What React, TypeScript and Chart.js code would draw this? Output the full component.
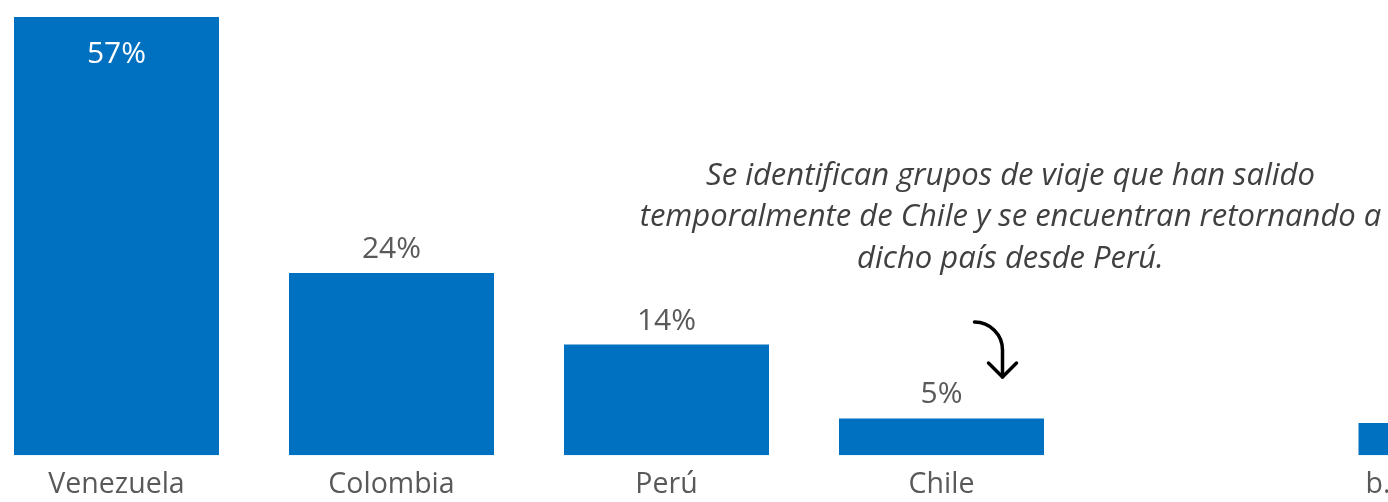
import React, { useEffect, useRef } from "react";
import { Chart, registerables } from "chart.js";

Chart.register(...registerables);

const categories = ["Venezuela", "Colombia", "Perú", "Chile"];
const shares = [57.0, 23.7, 14.4, 4.8];
const extraCategories = ["b."];
const extraShares = [4.2];
const noteLines = [
  "Se identifican grupos de viaje que han salido",
  "temporalmente de Chile y se encuentran retornando a",
  "dicho país desde Perú.",
];

const BLUE = "#0070C0";
const GRAY = "#595959";
const FONT = "'Segoe UI', 'Open Sans', 'Noto Sans', sans-serif";
const AXIS_MAX = 57;

const valueLabels = {
  id: "valueLabels",
  afterDatasetsDraw(chart: any) {
    const ctx = chart.ctx;
    const meta = chart.getDatasetMeta(0);
    ctx.save();
    ctx.font = `30px ${FONT}`;
    ctx.textAlign = "center";
    ctx.textBaseline = "alphabetic";
    meta.data.forEach((bar: any, i: number) => {
      const v = shares[i];
      const txt = `${Math.round(v)}%`;
      if (i === 0) {
        ctx.fillStyle = "#ffffff";
        ctx.fillText(txt, bar.x, bar.y + 46);
      } else {
        ctx.fillStyle = GRAY;
        ctx.fillText(txt, bar.x, bar.y - 15);
      }
    });
    ctx.restore();
  },
};

const noteAndArrow = {
  id: "noteAndArrow",
  afterDraw(chart: any) {
    const ctx = chart.ctx;
    const meta = chart.getDatasetMeta(0);
    const chile = meta.data[3];
    const cx = chile.x + 69;
    ctx.save();
    ctx.font = `italic 31px ${FONT}`;
    ctx.fillStyle = "#404040";
    ctx.textAlign = "center";
    ctx.textBaseline = "middle";
    noteLines.forEach((line, i) => {
      ctx.fillText(line, cx, 176 + i * 41.5);
    });
    // curved arrow
    const ax = chile.x + 33;
    ctx.strokeStyle = "#000000";
    ctx.lineWidth = 3.5;
    ctx.lineCap = "round";
    ctx.lineJoin = "round";
    ctx.beginPath();
    ctx.moveTo(ax, 322);
    ctx.arc(ax, 350, 28, -Math.PI / 2, 0);
    ctx.lineTo(ax + 28, 377);
    ctx.stroke();
    ctx.beginPath();
    ctx.moveTo(ax + 14, 363);
    ctx.lineTo(ax + 28, 377);
    ctx.lineTo(ax + 42, 363);
    ctx.stroke();
    ctx.restore();
  },
};

function baseOptions(padRight: number, barPct: number, catPct: number): any {
  return {
    animation: false,
    responsive: false,
    maintainAspectRatio: false,
    layout: { padding: { top: 17, bottom: 2.5, left: 0, right: padRight } },
    plugins: { legend: { display: false }, tooltip: { enabled: false } },
    datasets: { bar: { barPercentage: barPct, categoryPercentage: catPct } },
    scales: {
      y: { display: false, min: 0, max: AXIS_MAX },
      x: {
        grid: { display: false, drawTicks: false },
        border: { display: false },
        ticks: {
          color: GRAY,
          font: { family: FONT, size: 28.5 },
          padding: 12,
          maxRotation: 0,
          autoSkip: false,
        },
      },
    },
  };
}

export default function App() {
  const mainRef = useRef<HTMLCanvasElement>(null);
  const extraRef = useRef<HTMLCanvasElement>(null);

  useEffect(() => {
    document.body.style.margin = "0";
    document.body.style.overflow = "hidden";
    const main = new Chart(mainRef.current!, {
      type: "bar",
      data: {
        labels: categories,
        datasets: [{ data: shares, backgroundColor: BLUE, borderWidth: 0 }],
      },
      options: baseOptions(330, 205 / 275, 1),
      plugins: [valueLabels, noteAndArrow],
    });
    const extra = new Chart(extraRef.current!, {
      type: "bar",
      data: {
        labels: extraCategories,
        datasets: [{ data: extraShares, backgroundColor: BLUE, borderWidth: 0 }],
      },
      options: baseOptions(0, 39 / 60, 1),
    });
    return () => {
      main.destroy();
      extra.destroy();
    };
  }, []);

  return (
    <div
      style={{
        position: "fixed",
        left: 0,
        top: 0,
        width: 1388,
        height: 502,
        overflow: "hidden",
        background: "#ffffff",
      }}
    >
      <canvas
        ref={extraRef}
        width={60}
        height={516}
        style={{ position: "absolute", left: 1348, top: 0, width: 60, height: 516 }}
      />
      <canvas
        ref={mainRef}
        width={1430}
        height={516}
        style={{ position: "absolute", left: -21, top: 0, width: 1430, height: 516 }}
      />
    </div>
  );
}
